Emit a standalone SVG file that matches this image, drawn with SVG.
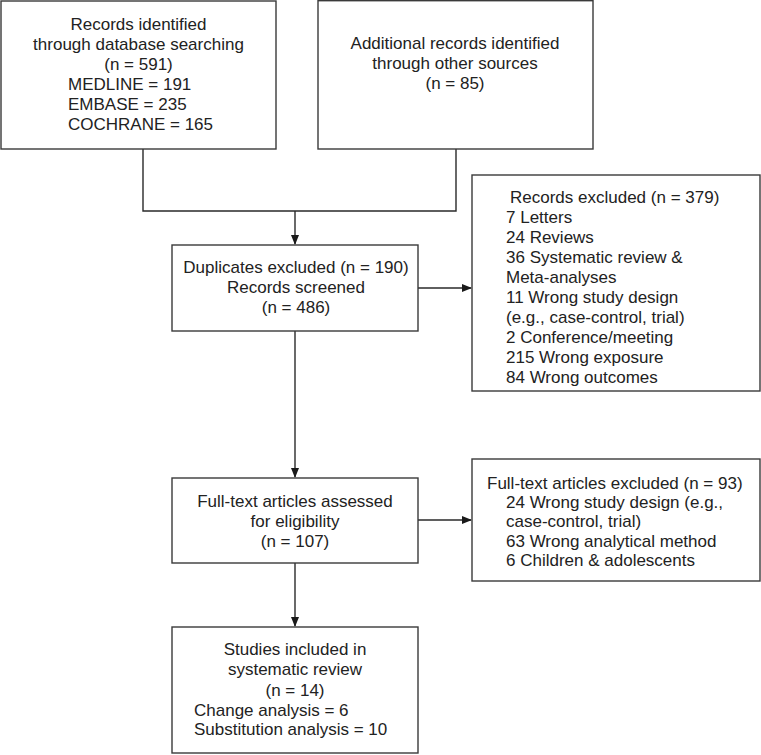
<svg xmlns="http://www.w3.org/2000/svg" width="761" height="755" viewBox="0 0 761 755">
<style>
.box{fill:#fff;stroke:#3a3a3a;stroke-width:1.4}
.ln{fill:none;stroke:#2a2a2a;stroke-width:1.4}
text{font-family:"Liberation Sans",Arial,sans-serif;font-size:17px;fill:#222}
.c{text-anchor:middle}
</style>
<defs>
<marker id="ah" markerWidth="10" markerHeight="8" refX="9" refY="4" orient="auto" markerUnits="userSpaceOnUse">
<path d="M0,0 L10,4 L0,8 Z" fill="#1a1a1a"/>
</marker>
</defs>
<rect width="761" height="755" fill="#fff"/>
<g id="connectors">
<path class="ln" d="M143,149 V211 H456 V149"/>
<path class="ln" d="M295,211 V244" marker-end="url(#ah)"/>
<path class="ln" d="M418,288 H471" marker-end="url(#ah)"/>
<path class="ln" d="M295,331 V477" marker-end="url(#ah)"/>
<path class="ln" d="M418,520 H471" marker-end="url(#ah)"/>
<path class="ln" d="M295,563 V626" marker-end="url(#ah)"/>
</g>
<g id="identified">
<rect class="box" x="1" y="1" width="275" height="148"/>
<text class="c" x="138.5" y="30">Records identified</text>
<text class="c" x="138.5" y="50">through database searching</text>
<text class="c" x="138.5" y="70">(n = 591)</text>
<text x="68" y="89.5">MEDLINE = 191</text>
<text x="68" y="109.5">EMBASE = 235</text>
<text x="68" y="129.5">COCHRANE = 165</text>
</g>
<g id="additional">
<rect class="box" x="318" y="0.7" width="275" height="148.3"/>
<text class="c" x="455" y="49">Additional records identified</text>
<text class="c" x="455" y="69">through other sources</text>
<text class="c" x="455" y="89">(n = 85)</text>
</g>
<g id="screened">
<rect class="box" x="172" y="245" width="246" height="86"/>
<text class="c" x="296" y="273">Duplicates excluded (n = 190)</text>
<text class="c" x="296" y="293">Records screened</text>
<text class="c" x="296" y="313">(n = 486)</text>
</g>
<g id="excluded1">
<rect class="box" x="472" y="175" width="288" height="216"/>
<text x="510" y="203">Records excluded (n = 379)</text>
<text x="506" y="223">7 Letters</text>
<text x="506" y="243">24 Reviews</text>
<text x="506" y="263">36 Systematic review &amp;</text>
<text x="506" y="283">Meta-analyses</text>
<text x="506" y="303">11 Wrong study design</text>
<text x="506" y="323">(e.g., case-control, trial)</text>
<text x="506" y="343">2 Conference/meeting</text>
<text x="506" y="363">215 Wrong exposure</text>
<text x="506" y="383">84 Wrong outcomes</text>
</g>
<g id="fulltext">
<rect class="box" x="172" y="478" width="246" height="85"/>
<text class="c" x="295" y="507">Full-text articles assessed</text>
<text class="c" x="295" y="527">for eligibility</text>
<text class="c" x="295" y="546.5">(n = 107)</text>
</g>
<g id="excluded2">
<rect class="box" x="472" y="459" width="288" height="122"/>
<text x="487" y="488.5">Full-text articles excluded (n = 93)</text>
<text x="506" y="508">24 Wrong study design (e.g.,</text>
<text x="506" y="527">case-control, trial)</text>
<text x="506" y="546.5">63 Wrong analytical method</text>
<text x="506" y="566">6 Children &amp; adolescents</text>
</g>
<g id="included">
<rect class="box" x="172" y="627" width="246" height="126"/>
<text class="c" x="295" y="655">Studies included in</text>
<text class="c" x="295" y="675">systematic review</text>
<text class="c" x="295" y="696">(n = 14)</text>
<text x="194" y="715.5">Change analysis = 6</text>
<text x="194" y="735">Substitution analysis = 10</text>
</g>
</svg>
